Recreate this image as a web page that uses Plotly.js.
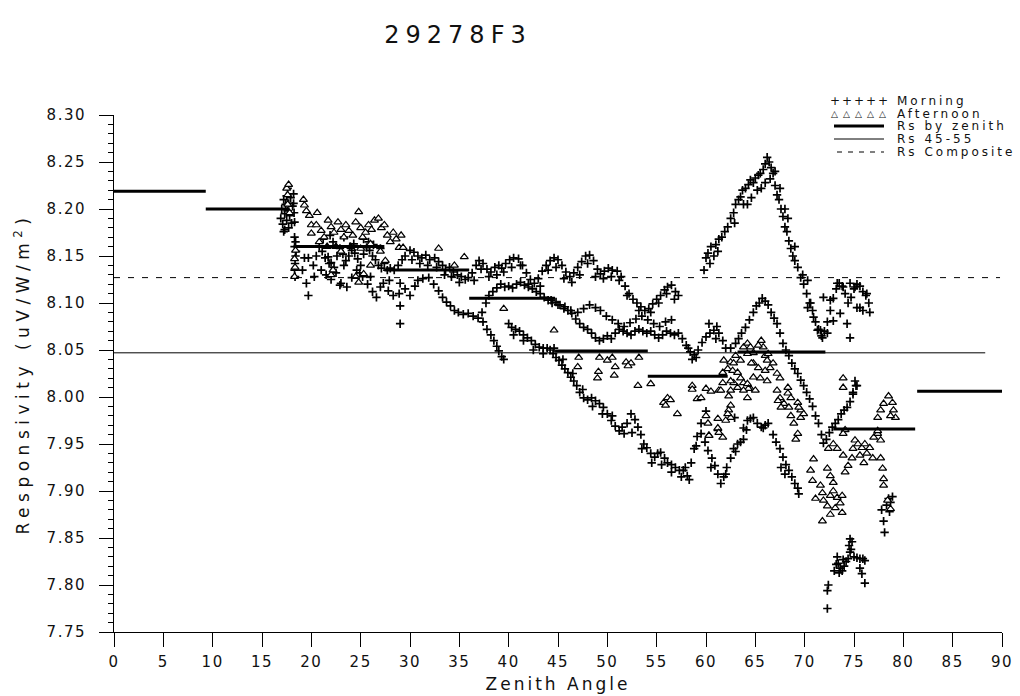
<!DOCTYPE html>
<html><head><meta charset="utf-8">
<script src="https://cdn.plot.ly/plotly-3.0.1.min.js"></script>
<style>
html,body{margin:0;padding:0;background:#fff;}
#chart{width:1020px;height:696px;}
.gtitle{letter-spacing:6px;}
.xtick text,.ytick text{letter-spacing:1.5px;}
.xtitle{letter-spacing:3px;}
.ytitle{letter-spacing:5.5px;}
.annotation-text{letter-spacing:3px;}
</style></head><body><div id="chart"></div>
<script>
// ---------------- DATA ----------------
const chartTitle = '29278F3';
const xTitle = 'Zenith Angle';
const yTitle = 'Responsivity (uV/W/m<sup>2</sup>)';
const legendLabels = ['Morning', 'Afternoon', 'Rs by zenith', 'Rs 45-55', 'Rs Composite'];

// Rs by zenith bins: start, end, value
const binStart = [0, 9.3, 18.2, 27.4, 36.0, 44.7, 54.1, 63.2, 72.9, 81.4];
const binEnd   = [9.3, 17.8, 27.4, 36.0, 44.7, 54.1, 62.2, 72.1, 81.2, 90];
const binRs    = [8.219, 8.200, 8.160, 8.135, 8.105, 8.049, 8.022, 8.048, 7.966, 8.006];

const rs4555 = 8.047;      const rs4555Range = [0, 88.3];
const rsComposite = 8.127; const rsCompositeRange = [0, 89.8];

// Morning points [zenith, responsivity]
const morningEarly = [[16.9,8.190],[17.0,8.200],[17.1,8.184],[17.2,8.210],[17.3,8.195],[17.3,8.178],[17.4,8.205],[17.5,8.188],[17.5,8.214],[17.6,8.198],[17.7,8.180],[17.7,8.206],[17.8,8.193],[17.9,8.212],[18.0,8.185],[18.1,8.203],[18.2,8.216],[17.2,8.176],[17.6,8.222],[18.3,8.170],[18.3,8.160],[18.4,8.150],[18.35,8.142],[18.4,8.165],[18.3,8.135],[18.45,8.155],[18.35,8.128],[18.2,8.206],[18.25,8.196],[18.3,8.186],[19.3,8.148],[19.5,8.121],[19.7,8.108],[20.2,8.140],[20.3,8.128],[19.7,8.148],[19.1,8.135]];
const morningMass = [[20.5,8.150],[20.8,8.160],[21.1,8.155],[21.4,8.148],[21.7,8.149],[22.0,8.143],[22.3,8.138],[22.6,8.150],[22.9,8.158],[23.2,8.152],[23.5,8.145],[23.8,8.150],[24.1,8.156],[24.4,8.153],[24.7,8.147],[25.0,8.140],[25.3,8.152],[25.6,8.159],[25.9,8.156],[26.2,8.150],[26.5,8.146],[26.8,8.140],[27.1,8.137],[27.4,8.142],[27.7,8.135],[28.0,8.137],[28.4,8.135],[28.8,8.140],[29.2,8.146],
 [21.0,8.135],[21.5,8.130],[22.0,8.125],[22.5,8.132],[22.9,8.119],[23.0,8.121],[23.6,8.117],[24.1,8.127],[24.6,8.135],[25.2,8.128],[25.7,8.120],[26.2,8.112],[26.6,8.106],[27.0,8.117],[27.3,8.121],[27.8,8.113],[28.3,8.108],[28.9,8.110],[29.0,8.097],[29.0,8.078],[21.8,8.142],[23.3,8.140],[24.9,8.132],[26.0,8.128],[27.9,8.124],
 [21.2,8.168],[22.2,8.165],[23.3,8.170],[24.3,8.163],[25.3,8.168],[26.3,8.162],[27.0,8.158],[21.9,8.172],[23.9,8.160],[25.8,8.165]];
const morningUpper = [[29.5,8.150],[30.0,8.156],[30.4,8.154],[30.8,8.150],[31.2,8.148],[31.6,8.151],[32.0,8.146],[32.5,8.148],[32.9,8.144],[33.3,8.140],[33.6,8.135],[34.0,8.138],[34.4,8.133],[34.8,8.130],[35.2,8.128],[35.6,8.125],[35.9,8.127],[36.3,8.132],[36.7,8.140],[37.0,8.145],[37.4,8.142],[37.8,8.136],[38.2,8.133],[38.6,8.138],[39.0,8.140],[39.3,8.137],[39.7,8.142],[40.1,8.146],[40.5,8.148],[41.0,8.147],[41.4,8.140],[41.8,8.132],[42.2,8.125],[42.6,8.121],[43.0,8.126],[43.4,8.134],[43.8,8.140],[44.2,8.145],[44.6,8.148],[45.0,8.146],[45.4,8.140],[45.8,8.133],[46.2,8.128],[46.6,8.132],[47.0,8.138],[47.4,8.144],[47.8,8.150],[48.2,8.151],[48.6,8.145],[49.0,8.136],[49.3,8.131],[49.7,8.134],[50.1,8.137],[50.5,8.135],[51.0,8.134],[51.4,8.128],[51.8,8.118],[52.2,8.110],[52.6,8.104],[53.0,8.100],[53.4,8.096],[53.8,8.092],[54.2,8.094],[54.6,8.099],[55.0,8.104],[55.4,8.108],[55.8,8.114],[56.1,8.117],[56.5,8.119],[56.9,8.112],[57.2,8.108],
 [30.2,8.146],[31.0,8.142],[31.8,8.140],[32.7,8.138],[33.5,8.130],[34.2,8.128],[35.0,8.122],[36.5,8.124],[37.2,8.136],[38.0,8.128],[38.8,8.130],[39.5,8.133],[40.3,8.138],[41.2,8.140],[42.0,8.120],[43.2,8.118],[44.0,8.135],[44.8,8.138],[45.6,8.126],[46.4,8.122],[47.2,8.130],[48.0,8.142],[48.8,8.128],[49.6,8.126],[50.4,8.128],[51.2,8.124],[52.0,8.108],[53.2,8.092],[54.4,8.090],[55.2,8.100],[56.0,8.110],[56.8,8.104]];
const morningMiddle = [[29.0,8.121],[29.5,8.115],[30.0,8.108],[30.5,8.118],[30.8,8.124],[31.3,8.126],[31.9,8.127],[32.4,8.120],[32.9,8.113],[33.3,8.106],[33.7,8.101],[34.1,8.097],[34.5,8.092],[34.9,8.090],[35.4,8.088],[35.9,8.089],[36.4,8.086],[36.9,8.084],[37.3,8.090],[37.7,8.100],[38.0,8.108],[38.4,8.112],[38.8,8.116],[39.2,8.120],[39.6,8.117],[40.0,8.118],[40.4,8.116],[40.8,8.120],[41.2,8.122],[41.6,8.119],[42.0,8.117],[42.4,8.115],[42.8,8.112],[43.2,8.110],[43.6,8.106],[44.0,8.103],[44.4,8.100],[44.8,8.101],[45.2,8.098],[45.6,8.094],[46.0,8.092],[46.4,8.089],[46.8,8.083],[47.2,8.078],[47.6,8.074],[48.0,8.072],[48.4,8.068],[48.8,8.063],[49.2,8.060],[49.6,8.062],[50.0,8.065],[50.4,8.062],[50.8,8.068],[51.2,8.072],[51.6,8.070],[52.0,8.068],[52.4,8.066],[52.8,8.070],[53.2,8.072],[53.6,8.070],[54.0,8.068],[54.4,8.070],[54.8,8.066],[55.2,8.063],[55.6,8.066],[56.0,8.070],[56.4,8.068],[56.8,8.066],[57.2,8.068],[57.6,8.062],[58.0,8.055],[58.4,8.048],[58.8,8.045],[59.2,8.050],[59.6,8.058],[60.0,8.064],[60.4,8.068],[60.8,8.071],[61.1,8.075],[61.0,8.062],[58.6,8.040],[60.3,8.078],[58.2,8.052],[59.0,8.042],
 [44.3,8.103],[45.0,8.098],[45.7,8.096],[46.3,8.092],[47.0,8.090],[47.6,8.094],[48.2,8.098],[48.8,8.095],[49.3,8.092],[49.9,8.086],[50.5,8.082],[51.1,8.078],[51.7,8.075],[52.3,8.079],[52.9,8.083],[53.5,8.086],[54.1,8.082],[54.7,8.078],[55.3,8.075],[55.9,8.080],[56.5,8.082]];
const morningLower = [[37.4,8.080],[37.8,8.072],[38.2,8.066],[38.5,8.060],[38.8,8.054],[39.0,8.049],[39.3,8.043],[39.5,8.040],[40.0,8.078],[40.3,8.074],[40.7,8.072],[41.1,8.070],[41.5,8.066],[41.9,8.063],[42.3,8.060],[42.7,8.056],[43.1,8.053],[43.5,8.052],[43.9,8.052],[44.2,8.050],[44.5,8.046],[44.8,8.042],[45.1,8.039],[45.4,8.034],[45.7,8.030],[46.0,8.026],[46.3,8.021],[46.6,8.017],[46.9,8.012],[47.2,8.005],[47.6,7.999],[48.0,7.997],[48.4,7.999],[48.8,7.996],[49.2,7.993],[49.6,7.989],[50.0,7.982],[50.4,7.975],[50.8,7.969],[51.2,7.964],[51.7,7.961],[52.0,7.972],[52.4,7.982],[52.8,7.976],[53.1,7.968],[53.4,7.960],[53.7,7.950],[54.0,7.946],[54.4,7.940],[54.8,7.936],[55.1,7.940],[55.4,7.941],[55.8,7.935],[56.1,7.930],[56.5,7.928],[56.9,7.925],[57.3,7.922],[57.7,7.922],[58.1,7.916],[58.5,7.930],[58.8,7.945],[59.1,7.958],[59.5,7.961],[59.9,7.952],[60.2,7.943],[60.6,7.935],[60.9,7.927],[61.2,7.918],[61.5,7.908],[61.8,7.915],[62.1,7.925],[62.5,7.935],[62.8,7.945],[63.2,7.950],[63.5,7.952],[63.8,7.955],[64.1,7.965],[64.5,7.977],[64.8,7.978],
 [40.5,8.066],[41.5,8.060],[42.5,8.050],[43.5,8.046],[44.6,8.052],[45.5,8.040],[46.5,8.025],[47.5,8.008],[48.5,7.990],[49.5,7.982],[50.5,7.980],[51.5,7.968],[52.5,7.962],[53.5,7.945],[54.5,7.930],[55.5,7.928],[56.5,7.920],[57.5,7.915],[59.0,7.948],[60.5,7.925],[62.0,7.918],[63.0,7.942],
 [62.9,7.978],[63.8,7.967],[64.2,7.975],[65.8,7.967],[66.3,7.972],[59.5,7.972],[60.0,7.985],[57.9,7.925],[58.3,7.912]];
const morningPeak = [[59.8,8.135],[60.0,8.148],[60.2,8.153],[60.5,8.160],[60.8,8.150],[61.0,8.162],[61.3,8.168],[61.6,8.170],[61.9,8.176],[62.2,8.181],[62.5,8.190],[62.8,8.196],[63.0,8.205],[63.3,8.210],[63.5,8.213],[63.7,8.220],[64.0,8.222],[64.3,8.226],[64.5,8.231],[64.8,8.228],[65.0,8.233],[65.3,8.236],[65.5,8.238],[65.8,8.242],[66.0,8.248],[66.2,8.255],[66.4,8.250],[66.6,8.244],[66.8,8.238],[67.0,8.225],[67.2,8.215],[67.4,8.210],[67.6,8.200],[67.8,8.192],[68.0,8.181],[68.2,8.176],[68.4,8.166],[68.6,8.158],[68.8,8.150],[69.0,8.145],[69.3,8.138],[69.6,8.127],[69.9,8.120],[70.2,8.110],[70.5,8.100],[70.8,8.092],[71.1,8.080],[71.4,8.072],[71.7,8.065],[72.0,8.070],[72.3,8.080],[72.6,8.092],[72.9,8.105],[73.2,8.115],[73.5,8.121],[73.8,8.118],[74.1,8.110],[74.4,8.100],[74.7,8.106],[75.0,8.115],[75.3,8.120],[75.6,8.118],[75.9,8.112],[76.2,8.108],[76.5,8.100],[76.6,8.090],
 [63.8,8.205],[64.6,8.212],[65.2,8.220],[65.6,8.222],[66.0,8.228],[66.5,8.232],[67.0,8.240],[64.2,8.205],[62.9,8.185],[67.5,8.222],[68.0,8.200],[60.4,8.142],[61.2,8.155],[68.3,8.190],[69.0,8.160],[69.8,8.130],
 [70.3,8.124],[70.6,8.100],[70.9,8.085],[71.6,8.071],[72.3,8.068],[71.9,8.106],[72.6,8.103],[73.3,8.121],[73.9,8.117],[74.6,8.121],[75.1,8.117],[75.3,8.095],[75.9,8.092],[76.3,8.110],[74.6,8.063],[73.6,8.089],[70.3,8.095],[71.3,8.071],[71.8,8.063],[72.9,8.081],[74.3,8.078],[75.6,8.095],[75.1,8.017],[75.3,8.012],[74.9,8.005]];
const morningSecondPeak = [[61.3,8.068],[61.7,8.060],[62.0,8.052],[62.5,8.052],[63.0,8.057],[63.3,8.062],[63.6,8.068],[64.0,8.074],[64.4,8.082],[64.8,8.090],[65.1,8.097],[65.4,8.100],[65.7,8.105],[66.0,8.102],[66.3,8.098],[66.6,8.090],[66.9,8.084],[67.2,8.078],[67.5,8.068],[67.8,8.057],[68.1,8.050],[68.4,8.044],[68.7,8.036],[69.0,8.030],[69.3,8.025],[69.6,8.018],[69.9,8.012],[70.2,8.005],[70.5,7.998],[70.8,7.990],[71.1,7.980],[71.4,7.972],[71.7,7.960],[71.9,7.951],[72.2,7.955],[72.5,7.962],[72.8,7.968],[73.1,7.972],[73.4,7.976],[73.7,7.982],[74.0,7.986],[74.3,7.989],[74.6,7.995],[74.9,8.003],[75.2,8.012]];
const morningLowRight = [[65.2,7.972],[65.6,7.968],[66.0,7.970],[66.8,7.960],[67.1,7.952],[67.5,7.945],[67.8,7.936],[68.1,7.928],[68.4,7.922],[68.7,7.915],[69.0,7.908],[69.4,7.897],[68.0,7.918],[67.6,7.925],[69.3,7.903]];
const morningDip = [[72.3,7.775],[72.3,7.794],[72.4,7.800],[73.0,7.815],[73.2,7.822],[73.4,7.823],[73.6,7.818],[73.5,7.813],[73.8,7.815],[74.0,7.820],[74.2,7.825],[74.4,7.828],[74.6,7.835],[74.5,7.842],[74.6,7.849],[74.8,7.846],[74.7,7.838],[75.0,7.830],[75.3,7.829],[75.6,7.828],[75.9,7.828],[76.1,7.826],[75.6,7.818],[75.8,7.812],[76.1,7.802],[73.3,7.830],[73.9,7.827]];
const morningFar = [[77.8,7.880],[78.0,7.868],[78.1,7.856],[78.3,7.885],[78.5,7.892],[78.7,7.888],[78.9,7.894],[78.6,7.878]];

// Afternoon points [zenith, responsivity]
const afternoonLeft = [[17.5,8.222],[17.6,8.215],[17.7,8.226],[17.6,8.205],[17.8,8.196],[18.3,8.147],[18.35,8.138],[18.3,8.128],[18.4,8.156],[19.2,8.210],[19.3,8.204],[19.5,8.198],[19.8,8.193],[20.6,8.196],[20.0,8.183],[20.5,8.183],[20.0,8.174],[21.0,8.177],[21.3,8.170],[21.7,8.188],[22.0,8.181],[22.3,8.175],[22.7,8.186],[23.0,8.178],[23.3,8.170],[23.5,8.183],[23.8,8.177],[24.2,8.172],[24.5,8.186],[24.8,8.197],[25.0,8.180],[25.2,8.170],[25.5,8.175],[25.8,8.183],[26.1,8.178],[26.4,8.188],[26.8,8.190],[27.1,8.180],[27.4,8.183],[27.7,8.172],[28.0,8.165],[28.3,8.175],[28.6,8.168],[28.9,8.159],[29.1,8.172],[29.3,8.159],[22.5,8.160],[23.0,8.155],[24.0,8.160],[25.0,8.158],[26.0,8.163],[27.0,8.155],[21.6,8.160],[20.8,8.165],[22.0,8.130],[22.2,8.135],[24.8,8.122],[25.3,8.131],[24.5,8.128],[26.0,8.140],[27.5,8.145],[32.9,8.158],[34.5,8.140],[35.5,8.149],[39.5,8.094],[44.6,8.071]];
const afternoonMid = [[47.1,8.042],[47.0,8.032],[49.2,8.042],[49.1,8.027],[49.0,8.020],[50.0,8.039],[50.5,8.042],[50.8,8.032],[50.7,8.023],[51.9,8.037],[52.4,8.036],[52.1,8.033],[53.2,8.042],[53.1,8.012],[54.4,8.014],[56.1,7.999],[55.7,7.994],[56.4,7.997],[55.9,7.991],[57.1,7.982],[58.6,8.012],[58.6,8.008],[59.1,7.998],[59.5,7.999],[60.0,8.009],[60.0,7.980],[60.2,7.972],[60.3,7.959],[61.2,7.977],[61.2,7.966],[60.5,8.006],[61.3,8.007]];
const afternoonRight = [[61.8,8.039],[61.7,8.026],[62.2,8.030],[62.5,8.037],[62.8,8.036],[63.0,8.044],[63.5,8.039],[62.7,8.028],[63.2,8.026],[62.8,8.015],[63.5,8.020],[63.8,8.015],[63.2,8.010],[62.5,8.007],[62.3,8.001],[64.2,8.014],[64.5,8.009],[65.0,8.007],[64.2,7.999],[62.5,7.991],[62.3,7.986],[62.5,7.978],[62.0,7.975],[61.2,7.967],[61.3,7.962],[61.7,7.957],[60.3,7.959],[63.8,8.053],[64.2,8.057],[64.5,8.053],[64.8,8.047],[64.2,8.046],[64.8,8.036],[65.3,8.031],[65.8,8.053],[66.0,8.044],[66.2,8.039],[66.3,8.046],[66.0,8.028],[66.5,8.031],[66.8,8.036],[65.5,8.020],[66.2,8.017],[67.2,8.025],[67.5,8.020],[67.2,8.007],[67.5,7.999],[67.9,7.993],[68.3,8.010],[68.3,8.004],[67.3,7.996],[67.6,7.989],[68.4,7.989],[68.6,7.999],[68.6,7.980],[69.3,7.994],[69.6,7.986],[68.9,7.972],[69.1,7.955],[69.3,7.961],[69.4,7.989],[69.6,7.978],[69.9,7.982],[64.6,8.036],[64.8,8.021],[64.3,8.009],[63.8,8.007],[62.2,7.982],[61.5,8.007],[61.7,8.015],[62.5,8.017],[65.6,8.060],[65.3,8.055]];
const afternoonLow = [[70.9,7.934],[70.6,7.922],[70.8,7.911],[71.6,7.906],[71.8,7.898],[71.1,7.892],[71.9,7.890],[72.3,7.884],[72.6,7.895],[72.9,7.900],[73.3,7.893],[73.8,7.895],[73.6,7.887],[73.8,7.877],[71.8,7.868],[72.4,7.945],[72.9,7.950],[73.3,7.945],[73.9,7.938],[72.3,7.924],[72.6,7.916],[72.9,7.909],[74.1,7.920],[74.4,7.927],[74.8,7.935],[74.9,7.945],[75.1,7.954],[75.4,7.950],[75.8,7.946],[76.1,7.950],[76.3,7.940],[76.6,7.946],[76.9,7.935],[77.0,7.957],[77.4,7.961],[77.7,7.954],[77.7,7.935],[77.4,7.964],[77.9,7.924],[78.0,7.913],[78.0,7.906],[78.4,7.890],[78.7,7.881],[74.1,7.965],[73.9,7.961],[75.6,7.938],[76.0,7.930],[77.4,7.978],[77.7,7.986],[78.0,7.993],[78.5,8.001],[78.9,7.994],[79.0,7.986],[79.2,7.978],[78.7,7.980],[73.9,8.020],[73.9,8.010],[72.6,7.875],[73.1,7.882]];

// ---------------- BUILD ----------------
const morning = [].concat(morningEarly, morningMass, morningUpper, morningMiddle, morningLower, morningPeak, morningSecondPeak, morningLowRight, morningDip, morningFar);
const afternoon = [].concat(afternoonLeft, afternoonMid, afternoonRight, afternoonLow);

const binX = [], binY = [];
binStart.forEach((s, i) => { binX.push(s, binEnd[i], null); binY.push(binRs[i], binRs[i], null); });

const traces = [
  {type:'scatter', mode:'markers', name:legendLabels[0], x:morning.map(p=>p[0]), y:morning.map(p=>p[1]),
   marker:{symbol:'cross-thin-open', size:6, color:'#000', line:{color:'#000', width:1.7}}, showlegend:false, hoverinfo:'x+y'},
  {type:'scatter', mode:'markers', name:legendLabels[1], x:afternoon.map(p=>p[0]), y:afternoon.map(p=>p[1]),
   marker:{symbol:'triangle-up', size:7, color:'#fff', line:{color:'#000', width:1.2}}, showlegend:false, hoverinfo:'x+y'},
  {type:'scatter', mode:'lines', name:legendLabels[4], x:rsCompositeRange, y:[rsComposite, rsComposite],
   line:{color:'#000', width:1, dash:'6px,8px'}, showlegend:false},
  {type:'scatter', mode:'lines', name:legendLabels[3], x:rs4555Range, y:[rs4555, rs4555],
   line:{color:'#000', width:1}, showlegend:false},
  {type:'scatter', mode:'lines', name:legendLabels[2], x:binX, y:binY, connectgaps:false,
   line:{color:'#000', width:3}, showlegend:false}
];

// ---------------- LAYOUT ----------------
const W = 1020, H = 696, L = 114, R = 1002, T = 115, B = 632;
const px = v => (v - L) / (R - L);
const py = v => (B - v) / (B - T);

const legendRows = [101, 114, 126, 139, 152];
const legendTextX = 895, legendSymL = 834, legendSymR = 884;
const annotations = [];
const shapes = [];
legendLabels.forEach((lab, i) => {
  annotations.push({xref:'paper', yref:'paper', x:px(legendTextX), y:py(legendRows[i]), xanchor:'left', yanchor:'middle',
    text:lab, showarrow:false, font:{family:'DejaVu Sans', size:12, color:'#111'}});
});
for (let k = 0; k < 5; k++) {
  const sx = legendSymL + 2 + k * 12;
  annotations.push({xref:'paper', yref:'paper', x:px(sx), y:py(legendRows[0]), xanchor:'center', yanchor:'middle',
    text:'+', showarrow:false, font:{family:'DejaVu Sans', size:12, color:'#111'}});
  annotations.push({xref:'paper', yref:'paper', x:px(sx), y:py(legendRows[1]), xanchor:'center', yanchor:'middle',
    text:'\u25B3', showarrow:false, font:{family:'DejaVu Sans', size:9, color:'#111'}});
}
shapes.push({type:'line', xref:'paper', yref:'paper', x0:px(legendSymL), x1:px(legendSymR), y0:py(legendRows[2]), y1:py(legendRows[2]), line:{color:'#000', width:3}});
shapes.push({type:'line', xref:'paper', yref:'paper', x0:px(legendSymL), x1:px(legendSymR), y0:py(legendRows[3]), y1:py(legendRows[3]), line:{color:'#000', width:1}});
shapes.push({type:'line', xref:'paper', yref:'paper', x0:px(legendSymL+3), x1:px(legendSymR), y0:py(legendRows[4]), y1:py(legendRows[4]), line:{color:'#000', width:1, dash:'5px,6px'}});

const layout = {
  width: W, height: H,
  margin: {l: L, r: W - R, t: T, b: H - B, pad: 0},
  paper_bgcolor: '#fff', plot_bgcolor: '#fff',
  font: {family: 'DejaVu Sans', color: '#111'},
  title: {text: chartTitle, x: 458 / W, xanchor: 'center', y: 1 - 35 / H, yanchor: 'middle',
          font: {family: 'DejaVu Sans', size: 24, color: '#111'}},
  showlegend: false,
  xaxis: {range: [0, 90], tick0: 0, dtick: 5, ticks: 'outside', ticklen: 14, tickwidth: 1, tickcolor: '#000',
          showline: true, linecolor: '#000', linewidth: 1, showgrid: false, zeroline: false,
          tickfont: {family: 'DejaVu Sans', size: 15, color: '#111'}, ticklabelstandoff: 2,
          title: {text: xTitle, font: {family: 'DejaVu Sans', size: 17, color: '#111'}, standoff: 8}},
  yaxis: {range: [7.75, 8.30], tick0: 7.75, dtick: 0.05, tickformat: '.2f', ticks: 'outside', ticklen: 14, tickwidth: 1, tickcolor: '#000',
          minor: {dtick: 0.01, ticks: 'outside', ticklen: 5, tickcolor: '#000', tickwidth: 1, showgrid: false},
          showline: true, linecolor: '#000', linewidth: 1, showgrid: false, zeroline: false,
          tickfont: {family: 'DejaVu Sans', size: 15, color: '#111'}, ticklabelstandoff: 10,
          title: {text: yTitle, font: {family: 'DejaVu Sans', size: 17, color: '#111'}, standoff: 12}},
  annotations: annotations,
  shapes: shapes
};

Plotly.newPlot('chart', traces, layout, {displayModeBar: false, staticPlot: true});
</script></body></html>
